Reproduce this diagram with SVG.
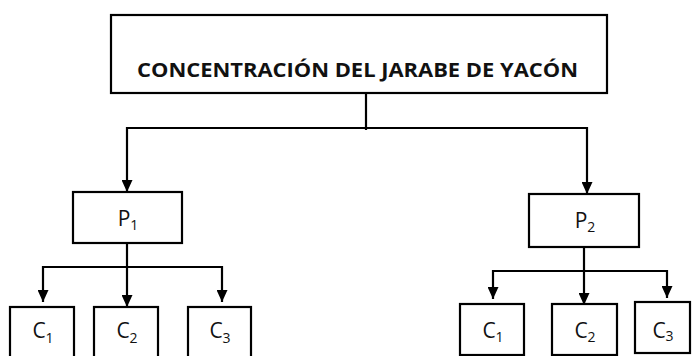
<svg xmlns="http://www.w3.org/2000/svg" width="692" height="356" viewBox="0 0 692 356">
<style>
.box{fill:#fff;stroke:#000;stroke-width:2.2}
.ln{fill:none;stroke:#000;stroke-width:2.2}
.lbl{font-family:"Open Sans","Liberation Sans",Arial,sans-serif;font-size:21px;fill:#111}
.sub{font-size:14px}
.title{font-family:"Open Sans","Liberation Sans",sans-serif;font-weight:bold;font-size:20px;fill:#111}
</style>
<defs>
<marker id="ah" viewBox="0 0 12 11" refX="12" refY="5.5" markerWidth="12" markerHeight="11" markerUnits="userSpaceOnUse" orient="auto">
<path d="M0,0 L12,5.5 L0,11 z" fill="#000"/>
</marker>
</defs>
<rect width="692" height="356" fill="#fff"/>
<g id="connectors">
<path class="ln" d="M366,93 V130"/>
<path class="ln" d="M127,128 H587"/>
<path class="ln" d="M127,127 V192" marker-end="url(#ah)"/>
<path class="ln" d="M587,127 V194" marker-end="url(#ah)"/>
<path class="ln" d="M127,243 V307" marker-end="url(#ah)"/>
<path class="ln" d="M42,267 H222"/>
<path class="ln" d="M43,266 V302" marker-end="url(#ah)"/>
<path class="ln" d="M222,266 V302" marker-end="url(#ah)"/>
<path class="ln" d="M584,247 V305" marker-end="url(#ah)"/>
<path class="ln" d="M492,271 H668"/>
<path class="ln" d="M493,270 V299" marker-end="url(#ah)"/>
<path class="ln" d="M667,270 V298" marker-end="url(#ah)"/>
</g>
<g id="title">
<rect class="box" x="111" y="15" width="496" height="78"/>
<text class="title" x="137" y="77" textLength="441" lengthAdjust="spacingAndGlyphs">CONCENTRACIÓN DEL JARABE DE YACÓN</text>
</g>
<g id="p1">
<rect class="box" x="73" y="192" width="109" height="51"/>
<text class="lbl" x="128" y="226" text-anchor="middle">P<tspan class="sub" dy="4">1</tspan></text>
</g>
<g id="p2">
<rect class="box" x="529" y="194" width="110" height="53"/>
<text class="lbl" x="585" y="228" text-anchor="middle">P<tspan class="sub" dy="4">2</tspan></text>
</g>
<g id="p1c1">
<rect class="box" x="10" y="307" width="64" height="60"/>
<text class="lbl" x="43" y="338" text-anchor="middle">C<tspan class="sub" dy="5">1</tspan></text>
</g>
<g id="p1c2">
<rect class="box" x="94" y="307" width="64" height="60"/>
<text class="lbl" x="127" y="338" text-anchor="middle">C<tspan class="sub" dy="5">2</tspan></text>
</g>
<g id="p1c3">
<rect class="box" x="188" y="307" width="63" height="60"/>
<text class="lbl" x="220" y="338" text-anchor="middle">C<tspan class="sub" dy="5">3</tspan></text>
</g>
<g id="p2c1">
<rect class="box" x="460" y="304" width="64" height="51"/>
<text class="lbl" x="493" y="338" text-anchor="middle">C<tspan class="sub" dy="4">1</tspan></text>
</g>
<g id="p2c2">
<rect class="box" x="552" y="304" width="65" height="51"/>
<text class="lbl" x="585" y="338" text-anchor="middle">C<tspan class="sub" dy="4">2</tspan></text>
</g>
<g id="p2c3">
<rect class="box" x="635" y="302" width="55" height="51"/>
<text class="lbl" x="663" y="338" text-anchor="middle">C<tspan class="sub" dy="3">3</tspan></text>
</g>
</svg>
